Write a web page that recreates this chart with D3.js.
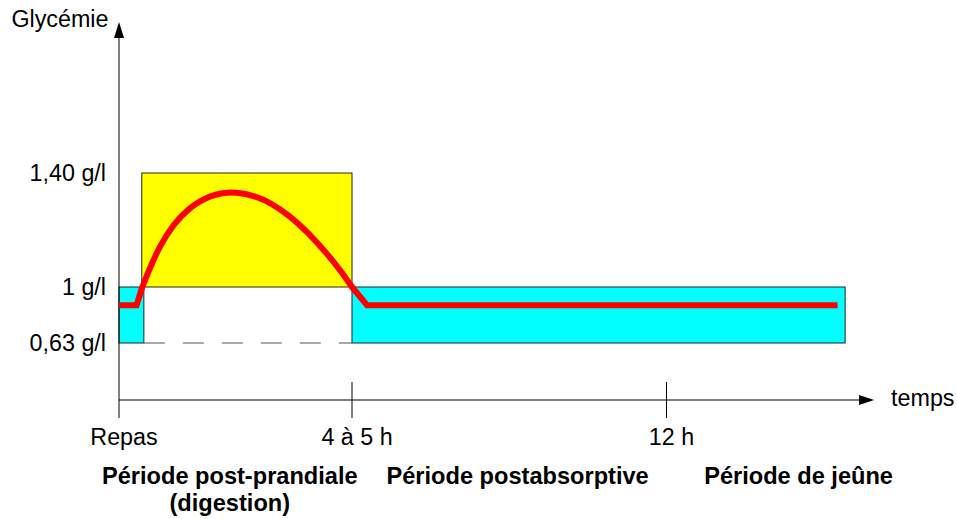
<!DOCTYPE html>
<html>
<head>
<meta charset="utf-8">
<style>
  body { margin: 0; background: #fff; }
  svg text { font-family: 'Liberation Sans', Arial, sans-serif; fill: #000; }
  .period { font-weight: bold; }
</style>
</head>
<body>
<svg width="957" height="519"></svg>
<script src="https://cdn.jsdelivr.net/npm/d3@7/dist/d3.min.js"></script>
<script>
(function () {

// time in hours (schematic, not to scale)
const xTicks = [0, 4.5, 12];
const xTickLabels = ['Repas', '4 à 5 h', '12 h'];
const timeEnd = 16.95;

// glycaemia in g/l
const yTicks = [1.4, 1, 0.63];
const yTickLabels = ['1,40 g/l', '1 g/l', '0,63 g/l'];
const glyEnd = 1.93;

// shaded zones
const zoneKind = ['normal', 'high', 'normal'];
const zoneStart = [0, 0.44, 4.5];
const zoneEnd = [0.48, 4.5, 16.26];
const zoneLow = [0.63, 1, 0.63];
const zoneHigh = [1, 1.4, 1];

// blood sugar curve
const curveTime = [0, 0.34, 0.44, 0.79, 1.37, 2.27, 3.3, 4.14, 4.5, 4.86, 16.08];
const curveValue = [0.88, 0.88, 0.99, 1.141, 1.276, 1.331, 1.247, 1.089, 1.0, 0.88, 0.88];
const arcFrom = 0.44, arcTo = 4.5;

// periods under the axis
const periodNames = [['Période post-prandiale', '(digestion)'], ['Période postabsorptive'], ['Période de jeûne']];
const periodAt = [2.14, 8.45, 15.15];

const mapKindToColor = {'normal': '#00ffff', 'high': '#ffff00'};
const curveColor = '#ff0000';

const svg = d3.select('svg'),
    fontSize = 23.3,
    tickOut = 18;

// piecewise scales: the original sketch is not linear
const x = d3.scaleLinear()
  .domain([0, 4.5, 12])
  .range([119, 352, 666.5]);
const y = d3.scaleLinear()
  .domain([0, 0.63, 1, 1.4])
  .range([400, 343, 287, 173]);

const zones = zoneKind.map(function(k, i) {
  return {kind: k, t0: zoneStart[i], t1: zoneEnd[i], lo: zoneLow[i], hi: zoneHigh[i]};
});
const points = curveTime.map(function(t, i) { return {t: t, v: curveValue[i]}; });

// zones
svg.append('g').attr('class', 'zones')
  .selectAll('rect')
  .data(zones)
  .enter().append('rect')
    .attr('x', function(d) { return x(d.t0); })
    .attr('y', function(d) { return y(d.hi); })
    .attr('width', function(d) { return x(d.t1) - x(d.t0); })
    .attr('height', function(d) { return y(d.lo) - y(d.hi); })
    .attr('fill', function(d) { return mapKindToColor[d.kind]; })
    .attr('stroke', '#222')
    .attr('stroke-width', 1);

// dashed lower limit during digestion
svg.append('line')
  .attr('x1', x(zones[0].t1))
  .attr('x2', x(zones[1].t1))
  .attr('y1', y(0.63))
  .attr('y2', y(0.63))
  .attr('stroke', '#555')
  .attr('stroke-width', 1)
  .attr('stroke-dasharray', '21,18');

// axes
const axes = svg.append('g').attr('class', 'axes');

axes.append('line')
  .attr('x1', x(0)).attr('x2', x(0))
  .attr('y1', y(0) + tickOut).attr('y2', y(glyEnd) + 16)
  .attr('stroke', '#000');
axes.append('path')
  .attr('d', 'M' + x(0) + ',' + y(glyEnd) + 'l-5,16h10z')
  .attr('fill', '#000');

axes.append('line')
  .attr('x1', x(0)).attr('x2', x(timeEnd) - 15)
  .attr('y1', y(0)).attr('y2', y(0))
  .attr('stroke', '#000');
axes.append('path')
  .attr('d', 'M' + x(timeEnd) + ',' + y(0) + 'l-15,-5v10z')
  .attr('fill', '#000');

axes.selectAll('.tick')
  .data(xTicks.filter(function(t) { return t > 0; }))
  .enter().append('line')
    .attr('class', 'tick')
    .attr('x1', function(d) { return x(d); })
    .attr('x2', function(d) { return x(d); })
    .attr('y1', y(0) - tickOut)
    .attr('y2', y(0) + tickOut)
    .attr('stroke', '#000');

axes.selectAll('.xlabel')
  .data(xTicks)
  .enter().append('text')
    .attr('class', 'xlabel')
    .attr('x', function(d) { return x(d) + 5; })
    .attr('y', 445)
    .attr('text-anchor', 'middle')
    .style('font-size', fontSize + 'px')
    .text(function(d, i) { return xTickLabels[i]; });

axes.selectAll('.ylabel')
  .data(yTicks)
  .enter().append('text')
    .attr('class', 'ylabel')
    .attr('x', x(0) - 13)
    .attr('y', function(d) { return y(d) + 8; })
    .attr('text-anchor', 'end')
    .style('font-size', fontSize + 'px')
    .text(function(d, i) { return yTickLabels[i]; });

axes.append('text')
  .attr('x', x(0) - 10.5)
  .attr('y', 27)
  .attr('text-anchor', 'end')
  .style('font-size', fontSize + 'px')
  .text('Glycémie');

axes.append('text')
  .attr('x', x(timeEnd) + 17)
  .attr('y', y(0) + 6)
  .style('font-size', fontSize + 'px')
  .text('temps');

// blood sugar curve: straight joins, smooth arc
const straight = d3.line()
  .x(function(d) { return x(d.t); })
  .y(function(d) { return y(d.v); });
const smooth = d3.line()
  .curve(d3.curveNatural)
  .x(function(d) { return x(d.t); })
  .y(function(d) { return y(d.v); });

const curve = svg.append('g').attr('class', 'curve')
  .attr('fill', 'none')
  .attr('stroke', curveColor)
  .attr('stroke-width', 6);

curve.append('path')
  .attr('d', straight(points.filter(function(d) { return d.t <= arcFrom; })));
curve.append('path')
  .attr('d', straight(points.filter(function(d) { return d.t >= arcTo; })));
curve.append('path')
  .attr('stroke-linecap', 'round')
  .attr('d', smooth(points.filter(function(d) { return d.t >= arcFrom && d.t <= arcTo; })));

// period names
const period = svg.append('g').selectAll('text')
  .data(periodNames)
  .enter().append('text')
    .attr('class', 'period')
    .attr('text-anchor', 'middle')
    .style('font-size', (fontSize + 0.3) + 'px');

period.selectAll('tspan')
  .data(function(d, i) { return d.map(function(s) { return {s: s, at: periodAt[i]}; }); })
  .enter().append('tspan')
    .attr('x', function(d) { return x(d.at); })
    .attr('y', function(d, i) { return 484 + i * 27; })
    .text(function(d) { return d.s; });

})();
</script>
</body>
</html>
